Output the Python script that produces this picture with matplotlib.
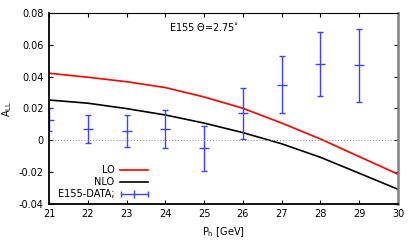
import numpy as np
import matplotlib.pyplot as plt
from matplotlib.legend_handler import HandlerErrorbar

# E155 data points
ph = [21, 22, 23, 24, 25, 26, 27, 28, 29]
all_val = [0.013, 0.007, 0.006, 0.007, -0.005, 0.017, 0.035, 0.048, 0.047]
err_up = [0.020, 0.016, 0.016, 0.019, 0.009, 0.033, 0.053, 0.068, 0.070]
err_lo = [0.006, -0.002, -0.004, -0.005, -0.019, 0.001, 0.017, 0.028, 0.024]

# theory curves
ph_curve = [21, 22, 23, 24, 25, 26, 27, 28, 29, 30]
lo = [0.0421, 0.0396, 0.0368, 0.0331, 0.0272, 0.0201, 0.0108, 0.0008, -0.0103, -0.0213]
nlo = [0.0253, 0.0233, 0.0199, 0.0159, 0.0108, 0.0048, -0.0022, -0.0107, -0.0207, -0.0308]

blue = (0.25, 0.25, 1.0)

plt.rcParams['font.size'] = 7
fig = plt.figure(figsize=(4.15, 2.49), dpi=100)
ax = fig.add_axes([0.118, 0.181, 0.841, 0.767])

ax.plot(ph_curve, lo, color='red', lw=1.2, label='LO')
ax.plot(ph_curve, nlo, color='black', lw=1.2, label='NLO')
yerr = [np.array(all_val) - np.array(err_lo), np.array(err_up) - np.array(all_val)]
ax.errorbar(ph, all_val, yerr=yerr, fmt='_', color=blue, ms=7, mew=1,
            elinewidth=1, capsize=2.5, capthick=1)
# legend-only handle, drawn like gnuplot's errorbar key sample
eb = ax.errorbar([np.nan], [np.nan], xerr=[1], fmt='|', color=blue, ms=6, mew=1,
                 elinewidth=1, capsize=2.5, capthick=1, label='E155-DATA;')
ax.axhline(0, color='gray', lw=0.7, ls=(0, (1, 2)))

ax.set_xlim(21, 30)
ax.set_ylim(-0.04, 0.08)
ax.set_xticks(range(21, 31))
ax.set_yticks([-0.04, -0.02, 0, 0.02, 0.04, 0.06, 0.08])
ax.set_yticklabels(['-0.04', '-0.02', '0', '0.02', '0.04', '0.06', '0.08'])
ax.tick_params(direction='in', length=3, width=0.8, top=True, right=True, pad=4)

for side in ['left', 'bottom']:
    ax.spines[side].set_linewidth(1.3)
ax.spines['top'].set_linewidth(0.8)
ax.spines['right'].set_color('gray')
ax.spines['right'].set_linewidth(1.8)

ax.set_xlabel('P$_{\\mathregular{h}}$ [GeV]', labelpad=4)
ax.set_ylabel('A$_{\\mathregular{LL}}$', labelpad=3)
ax.text(25.0, 0.0712, 'E155 $\\Theta$=2.75$^{\\circ}$', ha='center', va='center')

ax.legend(loc='lower left', bbox_to_anchor=(0.0, -0.02), frameon=False,
          markerfirst=False, handlelength=2.9, labelspacing=0.2, handletextpad=0.6,
          handler_map={eb: HandlerErrorbar(xerr_size=1.4)})

fig.savefig('out.png', dpi=100)
